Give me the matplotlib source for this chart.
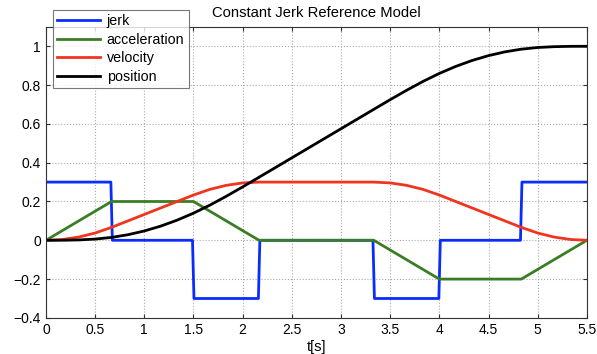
import matplotlib
matplotlib.use("Agg")
import matplotlib.pyplot as plt

plt.rcParams['font.family'] = ['Liberation Sans', 'DejaVu Sans']

# time samples (every 1/6 s)
t = [k / 6 for k in range(34)]

# jerk (piecewise constant)
t_jerk = [0, 0.66, 0.675, 1.49, 1.505, 2.16, 2.175, 3.325, 3.34, 3.995, 4.01, 4.825, 4.84, 5.5]
jerk = [0.3, 0.3, 0, 0, -0.3, -0.3, 0, 0, -0.3, -0.3, 0, 0, 0.3, 0.3]

# acceleration breakpoints
t_acc = [0, 0.6667, 1.5, 2.1667, 3.3333, 4.0, 4.8333, 5.5]
acc = [0, 0.2, 0.2, 0, 0, -0.2, -0.2, 0]

velocity = [0, 0.0042, 0.0167, 0.0375, 0.0667, 0.1, 0.1333, 0.1667, 0.2, 0.2333,
            0.2625, 0.2833, 0.2958, 0.3, 0.3, 0.3, 0.3, 0.3, 0.3, 0.3, 0.3,
            0.2958, 0.2833, 0.2625, 0.2333, 0.2, 0.1667, 0.1333, 0.1, 0.0667,
            0.0375, 0.0167, 0.0042, 0]

position = [0, 0.0002, 0.0019, 0.0063, 0.0148, 0.0287, 0.0481, 0.0731, 0.1037, 0.1398,
            0.1812, 0.2269, 0.2752, 0.325, 0.375, 0.425, 0.475, 0.525, 0.575, 0.625, 0.675,
            0.7248, 0.7731, 0.8188, 0.8602, 0.8963, 0.9269, 0.9519, 0.9713, 0.9852,
            0.9938, 0.9981, 0.9998, 1.0]

xticks = [0, 0.5, 1, 1.5, 2, 2.5, 3, 3.5, 4, 4.5, 5, 5.5]
xticklabels = ['0', '0.5', '1', '1.5', '2', '2.5', '3', '3.5', '4', '4.5', '5', '5.5']
yticks = [-0.4, -0.2, 0, 0.2, 0.4, 0.6, 0.8, 1]
yticklabels = ['\u22120.4', '\u22120.2', '0', '0.2', '0.4', '0.6', '0.8', '1']

fig = plt.figure(figsize=(5.97, 3.54), dpi=100)
ax = fig.add_axes([0.077, 0.102, 0.906, 0.822])

lw = 2.0
ax.plot(t_jerk, jerk, color='#0a2cff', lw=lw, label='jerk')
ax.plot(t_acc, acc, color='#3a7d25', lw=lw, label='acceleration')
ax.plot(t, velocity, color='#f0341e', lw=lw, label='velocity')
ax.plot(t, position, color='black', lw=lw, label='position')

ax.set_xlim(0, 5.5)
ax.set_ylim(-0.4, 1.1)
ax.set_xticks(xticks)
ax.set_xticklabels(xticklabels)
ax.set_yticks(yticks)
ax.set_yticklabels(yticklabels)
ax.tick_params(direction='in', top=True, right=True, labelsize=10, length=3, color='#333333')
ax.grid(True, linestyle=':', color='#aaaaaa', linewidth=0.8)
for s in ax.spines.values():
    s.set_color('#333333')
    s.set_linewidth(0.8)

ax.set_title('Constant Jerk Reference Model', fontsize=10.6, pad=7)
ax.set_xlabel('t[s]', fontsize=10.5, labelpad=2)

leg = ax.legend(loc='upper left', bbox_to_anchor=(0.089, 0.972), bbox_transform=fig.transFigure,
                fontsize=10.3, frameon=True, fancybox=False, borderpad=0.3, labelspacing=0.32,
                handlelength=3.0, handletextpad=0.45, borderaxespad=0)
leg.get_frame().set_edgecolor('#555555')
leg.get_frame().set_linewidth(0.8)

fig.savefig('out.png', dpi=100)
